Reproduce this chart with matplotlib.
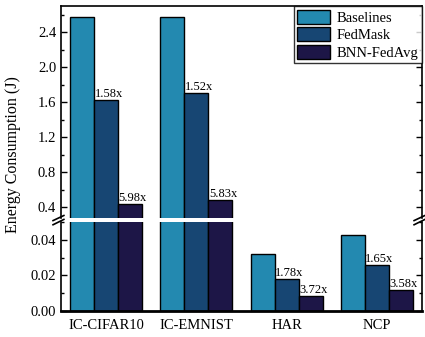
import matplotlib
matplotlib.use("Agg")
import matplotlib.pyplot as plt
from matplotlib.ticker import MultipleLocator
import numpy as np

plt.rcParams['font.family'] = ['Liberation Serif', 'DejaVu Serif']

# data
datasets = ["IC-CIFAR10", "IC-EMNIST", "HAR", "NCP"]
methods = ["Baselines", "FedMask", "BNN-FedAvg"]
baselines = [2.57, 2.58, 0.032, 0.043]
fedmask = [1.63, 1.70, 0.018, 0.026]
bnn_fedavg = [0.43, 0.48, 0.0087, 0.0121]
fedmask_ratio = ["1.58x", "1.52x", "1.78x", "1.65x"]
bnn_ratio = ["5.98x", "5.83x", "3.72x", "3.58x"]

colors = ["#2389b0", "#174673", "#1d1647"]

fig = plt.figure(figsize=(4.25, 3.37), dpi=100)
ax_top = fig.add_axes([0.1435, 0.353, 0.8495, 0.629])
ax_bot = fig.add_axes([0.1435, 0.077, 0.8495, 0.264])

x = np.arange(len(datasets))
w = 0.8 / 3
series = [baselines, fedmask, bnn_fedavg]

for ax in (ax_top, ax_bot):
    for i, (vals, name) in enumerate(zip(series, methods)):
        ax.bar(x + (i - 1) * w, vals, w, color=colors[i], edgecolor="black",
               linewidth=1.0, label=name)
    ax.set_xlim(-0.5, 3.5)
    ax.tick_params(axis="y", which="both", direction="in", right=True,
                   labelsize=10.5, width=1.0)
    ax.tick_params(axis="y", which="major", length=4)
    ax.tick_params(axis="y", which="minor", length=2.5)
    for s in ax.spines.values():
        s.set_linewidth(1.2)

ax_top.set_ylim(0.275, 2.7)
ax_top.yaxis.set_major_locator(MultipleLocator(0.4))
ax_top.yaxis.set_minor_locator(MultipleLocator(0.2))
ax_top.spines["bottom"].set_visible(False)
ax_top.set_xticks([])

ax_bot.set_ylim(0, 0.05)
ax_bot.yaxis.set_major_locator(MultipleLocator(0.02))
ax_bot.yaxis.set_minor_locator(MultipleLocator(0.01))
ax_bot.yaxis.set_major_formatter(matplotlib.ticker.FormatStrFormatter("%.2f"))
ax_bot.spines["top"].set_visible(False)
ax_bot.spines["bottom"].set_linewidth(2.0)
ax_bot.set_xticks(x)
ax_bot.set_xticklabels(datasets, fontsize=10.5)
ax_bot.tick_params(axis="x", length=0, pad=6)

# ratio labels on top of bars
for i in range(len(datasets)):
    ax_f = ax_top if fedmask[i] > 0.3 else ax_bot
    ax_f.text(x[i] - w / 2 + 0.005, fedmask[i], fedmask_ratio[i], ha="left",
              va="bottom", fontsize=9)
    ax_b = ax_top if bnn_fedavg[i] > 0.3 else ax_bot
    ax_b.text(x[i] + w / 2 + 0.005, bnn_fedavg[i], bnn_ratio[i], ha="left",
              va="bottom", fontsize=9)

# break marks
kw = dict(color="black", linewidth=1.2, clip_on=False)
for xx in (0, 1):
    ax_top.plot([xx - 0.022, xx + 0.008], [-0.012, 0.012], transform=ax_top.transAxes, **kw)
    ax_bot.plot([xx - 0.022, xx + 0.008], [0.97, 1.03], transform=ax_bot.transAxes, **kw)

leg = ax_top.legend(loc="upper right", fontsize=10.5, frameon=True, fancybox=False,
                    edgecolor="black", borderaxespad=0.0, borderpad=0.25,
                    handlelength=2.25, handleheight=1.1, labelspacing=0.18,
                    handletextpad=0.45)
leg.get_frame().set_linewidth(1.0)

fig.text(0.031, 0.54, "Energy Consumption (J)", rotation=90, ha="center",
         va="center", fontsize=11.5)

fig.savefig("out.png", dpi=100)
